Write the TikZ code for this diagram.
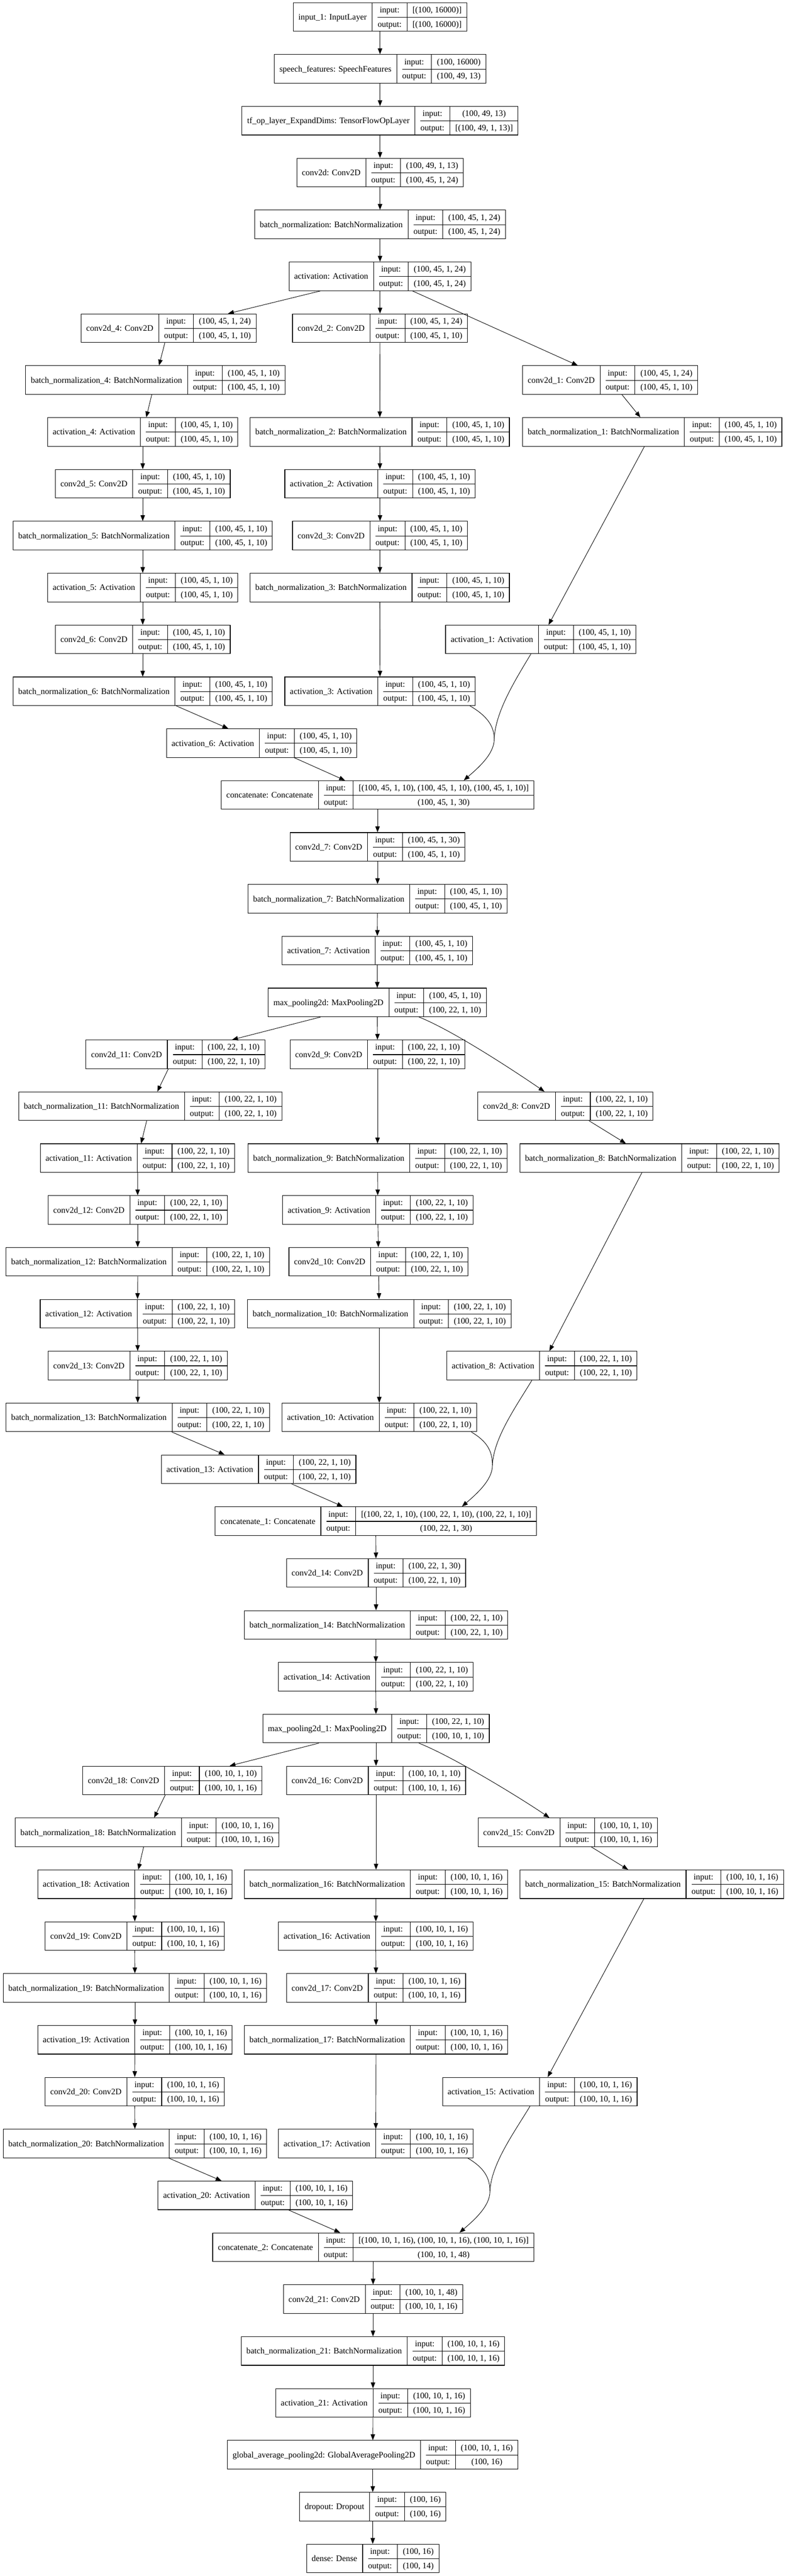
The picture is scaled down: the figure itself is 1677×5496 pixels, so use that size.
\documentclass[tikz,border=0pt]{standalone}
\usepackage{fontspec}
\setmainfont{Liberation Serif}
\usepackage{array}
\usetikzlibrary{arrows.meta,calc}
\setlength{\arrayrulewidth}{1.2pt}
\newcolumntype{Y}{@{\hspace{11pt}}c@{\hspace{11pt}}}
\newcommand\rowstrut{\rule[-9.3pt]{0pt}{30.5pt}}
\newcommand\myrec[3]{%
\begin{tabular}{Y|Y|Y}
\raisebox{-15.5pt}[0pt][0pt]{#1} & input:\rowstrut & #2 \\ \cline{2-3}
 & output:\rowstrut & #3
\end{tabular}}
\newcommand\lay[6]{\node[recn] (#1) at (#3,{36.2+110.66*#2}) {\myrec{#4}{#5}{#6}};}
\newcommand\mybn[1]{batch\_normalization\_#1: BatchNormalization}
\newcommand\mycv[1]{conv2d\_#1: Conv2D}
\newcommand\myac[1]{activation\_#1: Activation}
\newcommand\shpA{(100, 45, 1, 10)}
\newcommand\shpZ{(100, 45, 1, 24)}
\newcommand\shpB{(100, 22, 1, 10)}
\newcommand\shpC{(100, 10, 1, 16)}
\newcommand\shpY{(100, 10, 1, 10)}
\begin{document}
\begin{tikzpicture}[x=1pt,y=-1pt,
  recn/.style={draw, line width=1.2pt, inner sep=0pt, fill=white, font=\fontsize{18}{21}\selectfont},
  arr/.style={-{Triangle[length=12.5pt,width=9.5pt]}, line width=1pt},
  ln/.style={line width=1pt}]
\fill[white] (0,0) rectangle (1677,5496);
\useasboundingbox (0,0) rectangle (1677,5496);
% trunk
\lay{in1}{0}{811}{input\_1: InputLayer}{[(100, 16000)]}{[(100, 16000)]}
\lay{sf}{1}{811}{speech\_features: SpeechFeatures}{(100, 16000)}{(100, 49, 13)}
\lay{tf}{2}{811}{tf\_op\_layer\_ExpandDims: TensorFlowOpLayer}{(100, 49, 13)}{[(100, 49, 1, 13)]}
\lay{c0}{3}{811}{conv2d: Conv2D}{(100, 49, 1, 13)}{(100, 45, 1, 24)}
\lay{b0}{4}{811}{batch\_normalization: BatchNormalization}{(100, 45, 1, 24)}{(100, 45, 1, 24)}
\lay{a0}{5}{811}{activation: Activation}{(100, 45, 1, 24)}{(100, 45, 1, 24)}
% block 1
\lay{c4}{6}{359.8}{\mycv{4}}{\shpZ}{\shpA}
\lay{c2}{6}{811}{\mycv{2}}{\shpZ}{\shpA}
\lay{b4}{7}{331.4}{\mybn{4}}{\shpA}{\shpA}
\lay{c1}{7}{1301.9}{\mycv{1}}{\shpZ}{\shpA}
\lay{a4}{8}{304.6}{\myac{4}}{\shpA}{\shpA}
\lay{b2}{8}{810.5}{\mybn{2}}{\shpA}{\shpA}
\lay{b1}{8}{1391.9}{\mybn{1}}{\shpA}{\shpA}
\lay{c5}{9}{304.6}{\mycv{5}}{\shpA}{\shpA}
\lay{a2}{9}{811}{\myac{2}}{\shpA}{\shpA}
\lay{b5}{10}{304.6}{\mybn{5}}{\shpA}{\shpA}
\lay{c3}{10}{811}{\mycv{3}}{\shpA}{\shpA}
\lay{a5}{11}{304.6}{\myac{5}}{\shpA}{\shpA}
\lay{b3}{11}{810.5}{\mybn{3}}{\shpA}{\shpA}
\lay{c6}{12}{304.6}{\mycv{6}}{\shpA}{\shpA}
\lay{a1}{12}{1154}{\myac{1}}{\shpA}{\shpA}
\lay{b6}{13}{304.6}{\mybn{6}}{\shpA}{\shpA}
\lay{a3}{13}{811}{\myac{3}}{\shpA}{\shpA}
\lay{a6}{14}{558.4}{\myac{6}}{\shpA}{\shpA}
\lay{cc}{15}{805.7}{concatenate: Concatenate}{[\shpA, \shpA, \shpA]}{(100, 45, 1, 30)}
\lay{c7}{16}{805.7}{\mycv{7}}{(100, 45, 1, 30)}{\shpA}
\lay{b7}{17}{805.7}{\mybn{7}}{\shpA}{\shpA}
\lay{a7}{18}{805.1}{\myac{7}}{\shpA}{\shpA}
\lay{mp}{19}{805.1}{max\_pooling2d: MaxPooling2D}{\shpA}{\shpB}
% block 2
\lay{c11}{20}{374.2}{\mycv{11}}{\shpB}{\shpB}
\lay{c9}{20}{805.7}{\mycv{9}}{\shpB}{\shpB}
\lay{b11}{21}{320.7}{\mybn{11}}{\shpB}{\shpB}
\lay{c8}{21}{1206.6}{\mycv{8}}{\shpB}{\shpB}
\lay{a11}{22}{293.4}{\myac{11}}{\shpB}{\shpB}
\lay{b9}{22}{805.7}{\mybn{9}}{\shpB}{\shpB}
\lay{b8}{22}{1386}{\mybn{8}}{\shpB}{\shpB}
\lay{c12}{23}{293.9}{\mycv{12}}{\shpB}{\shpB}
\lay{a9}{23}{806.2}{\myac{9}}{\shpB}{\shpB}
\lay{b12}{24}{293.9}{\mybn{12}}{\shpB}{\shpB}
\lay{c10}{24}{807.8}{\mycv{10}}{\shpB}{\shpB}
\lay{a12}{25}{293.4}{\myac{12}}{\shpB}{\shpB}
\lay{b10}{25}{809.4}{\mybn{10}}{\shpB}{\shpB}
\lay{c13}{26}{293.9}{\mycv{13}}{\shpB}{\shpB}
\lay{a8}{26}{1156.3}{\myac{8}}{\shpB}{\shpB}
\lay{b13}{27}{293.9}{\mybn{13}}{\shpB}{\shpB}
\lay{a10}{27}{809.4}{\myac{10}}{\shpB}{\shpB}
\lay{a13}{28}{551.9}{\myac{13}}{\shpB}{\shpB}
\lay{cc1}{29}{801.9}{concatenate\_1: Concatenate}{[\shpB, \shpB, \shpB]}{(100, 22, 1, 30)}
\lay{c14}{30}{802.5}{\mycv{14}}{(100, 22, 1, 30)}{\shpB}
\lay{b14}{31}{802.5}{\mybn{14}}{\shpB}{\shpB}
\lay{a14}{32}{801.9}{\myac{14}}{\shpB}{\shpB}
\lay{mp1}{33}{802.5}{max\_pooling2d\_1: MaxPooling2D}{\shpB}{\shpY}
% block 3
\lay{c18}{34}{367.8}{\mycv{18}}{\shpY}{\shpC}
\lay{c16}{34}{802.5}{\mycv{16}}{\shpY}{\shpC}
\lay{b18}{35}{313.7}{\mybn{18}}{\shpC}{\shpC}
\lay{c15}{35}{1211.5}{\mycv{15}}{\shpY}{\shpC}
\lay{a18}{36}{288}{\myac{18}}{\shpC}{\shpC}
\lay{b16}{36}{802.5}{\mybn{16}}{\shpC}{\shpC}
\lay{b15}{36}{1390.8}{\mybn{15}}{\shpC}{\shpC}
\lay{c19}{37}{287.5}{\mycv{19}}{\shpC}{\shpC}
\lay{a16}{37}{801.9}{\myac{16}}{\shpC}{\shpC}
\lay{b19}{38}{288}{\mybn{19}}{\shpC}{\shpC}
\lay{c17}{38}{802.5}{\mycv{17}}{\shpC}{\shpC}
\lay{a19}{39}{288}{\myac{19}}{\shpC}{\shpC}
\lay{b17}{39}{802.5}{\mybn{17}}{\shpC}{\shpC}
\lay{c20}{40}{287.5}{\mycv{20}}{\shpC}{\shpC}
\lay{a15}{40}{1152}{\myac{15}}{\shpC}{\shpC}
\lay{b20}{41}{288}{\mybn{20}}{\shpC}{\shpC}
\lay{a17}{41}{801.9}{\myac{17}}{\shpC}{\shpC}
\lay{a20}{42}{545}{\myac{20}}{\shpC}{\shpC}
\lay{cc2}{43}{796.6}{concatenate\_2: Concatenate}{[\shpC, \shpC, \shpC]}{(100, 10, 1, 48)}
\lay{c21}{44}{796}{\mycv{21}}{(100, 10, 1, 48)}{\shpC}
\lay{b21}{45}{796}{\mybn{21}}{\shpC}{\shpC}
\lay{a21}{46}{796}{\myac{21}}{\shpC}{\shpC}
\lay{gap}{47}{795.5}{global\_average\_pooling2d: GlobalAveragePooling2D}{\shpC}{(100, 16)}
\lay{dr}{48}{795.5}{dropout: Dropout}{(100, 16)}{(100, 16)}
\lay{de}{49}{795.4}{dense: Dense}{(100, 16)}{(100, 14)}
% straight edges
\foreach \p/\q in {in1/sf, sf/tf, tf/c0, c0/b0, b0/a0,
  a0/c4, a0/c2, a0/c1,
  c4/b4, b4/a4, a4/c5, c5/b5, b5/a5, a5/c6, c6/b6, b6/a6, a6/cc,
  c2/b2, b2/a2, a2/c3, c3/b3, b3/a3, c1/b1, b1/a1,
  cc/c7, c7/b7, b7/a7, a7/mp,
  mp/c11, mp/c9,
  c11/b11, b11/a11, a11/c12, c12/b12, b12/a12, a12/c13, c13/b13, b13/a13, a13/cc1,
  c9/b9, b9/a9, a9/c10, c10/b10, b10/a10, c8/b8, b8/a8,
  cc1/c14, c14/b14, b14/a14, a14/mp1,
  mp1/c18, mp1/c16,
  c18/b18, b18/a18, a18/c19, c19/b19, b19/a19, a19/c20, c20/b20, b20/a20, a20/cc2,
  c16/b16, b16/a16, a16/c17, c17/b17, b17/a17, c15/b15, b15/a15,
  cc2/c21, c21/b21, b21/a21, a21/gap, gap/dr, dr/de}
  \draw[arr] (\p) -- (\q);
% curved edges from max pooling to the right branch
\draw[arr] ($(mp.south)+(89,0)$) .. controls +(75,30) and +(-60,-41) .. ($(c8.north)+(-44.6,0)$);
\draw[arr] ($(mp1.south)+(91.5,0)$) .. controls +(75,30) and +(-60,-41) .. ($(c15.north)+(-39,0)$);
% merging edges into the concatenations
\foreach \m/\r/\c/\k in {a3/a1/cc/1, a10/a8/cc1/2, a17/a15/cc2/3}{
  \coordinate (E\k) at ($(\c.north)+(184,0)$);
  \coordinate (M\k) at ($(E\k)+(65,-88)$);
  \draw[ln] ($(\m.south east)+(-12,0)$) .. controls +(34,20) and +(0,-30) .. (M\k);
  \draw[ln] ($(\r.south)+(-21,0)$) .. controls +(-33,55) and +(2,-58) .. (M\k);
  \draw[arr] (M\k) .. controls +(0,32) and +(30,-26) .. (E\k);
}
\end{tikzpicture}
\end{document}
